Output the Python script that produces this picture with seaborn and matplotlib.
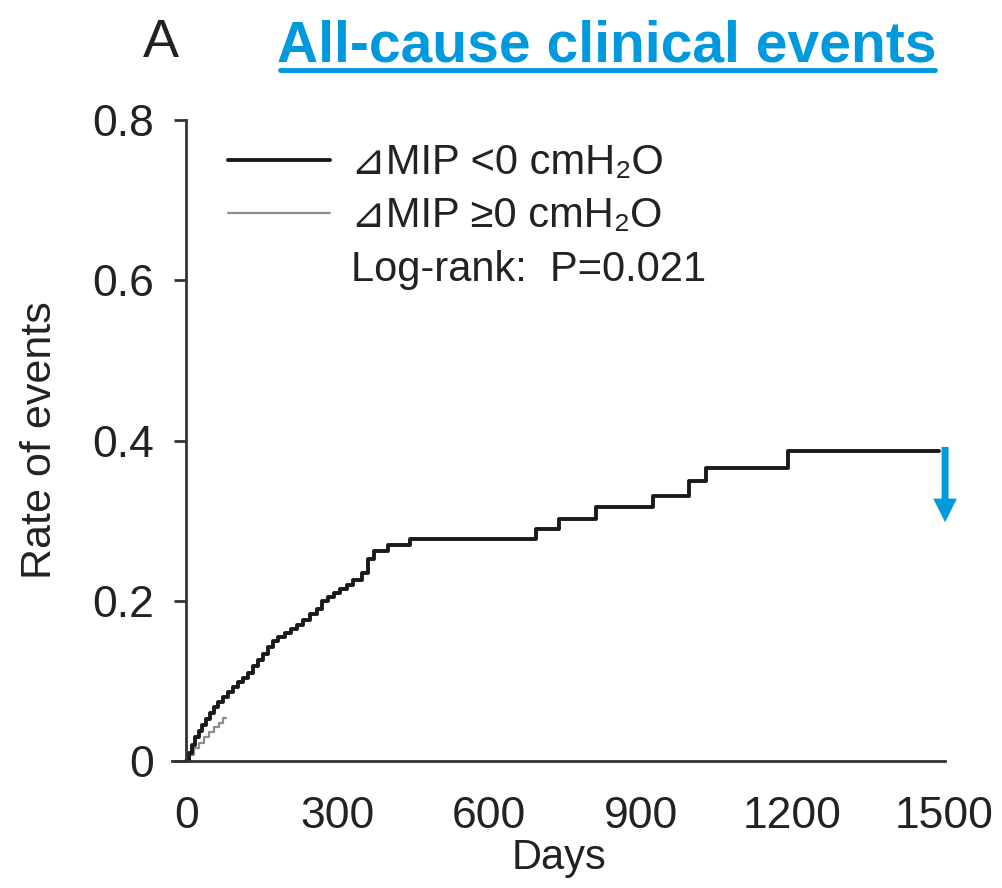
import numpy as np
import pandas as pd
import matplotlib
matplotlib.use("Agg")
import matplotlib.pyplot as plt
from matplotlib.lines import Line2D
import seaborn as sns

# Kaplan-Meier style cumulative event rate
days_neg = [0, 5, 12, 18, 25, 32, 40, 47, 55, 63, 72, 82, 92, 102, 112, 122,
            132, 142, 152, 162, 172, 182, 195, 208, 220, 232, 245, 258, 268,
            280, 292, 305, 318, 330, 348, 360, 372, 400, 443, 692, 738, 812,
            924, 995, 1028, 1192, 1490]
rate_neg = [0.0, 0.01, 0.02, 0.03, 0.037, 0.045, 0.052, 0.06, 0.068, 0.074,
            0.08, 0.086, 0.092, 0.098, 0.104, 0.11, 0.118, 0.126, 0.134,
            0.142, 0.15, 0.155, 0.16, 0.165, 0.17, 0.176, 0.183, 0.19, 0.2,
            0.205, 0.21, 0.215, 0.22, 0.226, 0.235, 0.252, 0.262, 0.269,
            0.2775, 0.29, 0.3025, 0.3175, 0.331, 0.35, 0.366, 0.3875, 0.3875]

days_pos = [0, 8, 16, 25, 35, 45, 55, 65, 72, 78]
rate_pos = [0.0, 0.008, 0.016, 0.022, 0.03, 0.036, 0.042, 0.048, 0.054, 0.054]

group_labels = ["⊿MIP <0 cmH₂O", "⊿MIP ≥0 cmH₂O"]
logrank_text = "Log-rank:  P=0.021"
x_ticks = [0, 300, 600, 900, 1200, 1500]
y_ticks = [0, 0.2, 0.4, 0.6, 0.8]
y_tick_labels = ["0", "0.2", "0.4", "0.6", "0.8"]

df = pd.concat([
    pd.DataFrame({"day": days_neg, "rate": rate_neg, "group": group_labels[0]}),
    pd.DataFrame({"day": days_pos, "rate": rate_pos, "group": group_labels[1]}),
], ignore_index=True)

sns.set_style("white")
plt.rcParams["font.family"] = ["Liberation Sans", "DejaVu Sans"]

txt = "#222222"
fig = plt.figure(figsize=(10.02, 8.88), dpi=100)
ax = fig.add_axes([0.1717, 0.143, 0.7715, 0.7218])

palette = {group_labels[0]: "#1a1a1a", group_labels[1]: "#8c8c8c"}
sns.lineplot(data=df[df.group == group_labels[1]], x="day", y="rate",
             color=palette[group_labels[1]], lw=1.6, drawstyle="steps-post",
             estimator=None, sort=False, legend=False, ax=ax)
sns.lineplot(data=df[df.group == group_labels[0]], x="day", y="rate",
             color=palette[group_labels[0]], lw=2.8, drawstyle="steps-post",
             estimator=None, sort=False, legend=False, ax=ax)

ax.set_xlim(-28, 1502)
ax.set_ylim(0, 0.8)
ax.spines["left"].set_position(("data", 0))
for s in ["top", "right"]:
    ax.spines[s].set_visible(False)
for s in ["left", "bottom"]:
    ax.spines[s].set_color("#333333")
    ax.spines[s].set_linewidth(2.0)

ax.set_xticks(x_ticks)
ax.set_xticklabels([str(t) for t in x_ticks])
ax.set_yticks(y_ticks)
ax.set_yticklabels(y_tick_labels)
ax.tick_params(axis="x", length=0, pad=25, labelsize=32, colors=txt)
ax.tick_params(axis="y", length=9, width=2, color="#333333", direction="out",
               pad=14, labelsize=32, labelcolor=txt, left=True)

ax.set_xlabel("Days", fontsize=30, color=txt, labelpad=1)
ax.set_ylabel("Rate of events", fontsize=31, color=txt)
ax.yaxis.set_label_coords(-0.145, 0.5)

handles = [
    Line2D([], [], color=palette[group_labels[0]], lw=2.8),
    Line2D([], [], color=palette[group_labels[1]], lw=1.6),
    Line2D([], [], color="none"),
]
ax.legend(handles, group_labels + [logrank_text], loc="upper left",
          bbox_to_anchor=(0.0724, 0.964), frameon=False, fontsize=30,
          handlelength=2.45, handletextpad=0.5, labelspacing=0.32,
          borderpad=0, borderaxespad=0, labelcolor=txt)

# blue annotation arrow at the end of the curve
ax.annotate("", xy=(1502, 0.298), xytext=(1502, 0.392),
            arrowprops=dict(arrowstyle="simple,head_length=1.7,head_width=1.7,tail_width=0.5",
                            fc="#0099dd", ec="none", lw=0, mutation_scale=10,
                            shrinkA=0, shrinkB=0),
            annotation_clip=False)

fig.text(0.161, 0.952, "A", fontsize=39, color=txt, ha="center", va="center")
fig.text(0.606, 0.948, "All-cause clinical events", fontsize=41,
         fontweight="bold", color="#0099dd", ha="center", va="center")
fig.add_artist(Line2D([0.2794, 0.933], [0.921, 0.921], color="#0099dd",
                      lw=3.5, transform=fig.transFigure))

fig.savefig("out.png", dpi=100)
